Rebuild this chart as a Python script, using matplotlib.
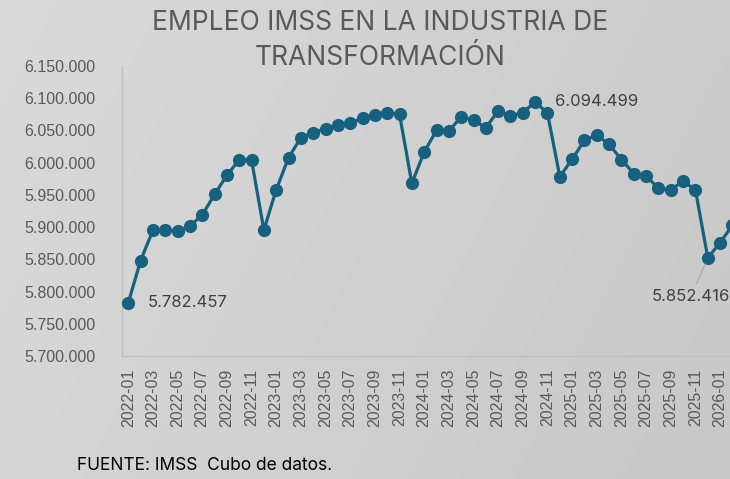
import numpy as np
import matplotlib
matplotlib.use("Agg")
import matplotlib.pyplot as plt
from matplotlib.ticker import FuncFormatter

# ---- data ----
months = [f"{y}-{m:02d}" for y in range(2022, 2027) for m in range(1, 13)][:50]
empleo = [5782457, 5848000, 5895000, 5895000, 5894500, 5901700, 5918800, 5950900,
          5980300, 6004700, 6004000, 5895500, 5958100, 6007800, 6038800, 6046600,
          6052800, 6058400, 6061600, 6068800, 6073400, 6077600, 6075000, 5967900,
          6016600, 6050200, 6049100, 6070900, 6065700, 6054300, 6080200, 6072400,
          6077600, 6094499, 6076600, 5978300, 6005200, 6034700, 6042900, 6028400,
          6004700, 5982900, 5979300, 5960200, 5957600, 5971600, 5957600, 5852416,
          5875900, 5902800]
title = "EMPLEO IMSS EN LA INDUSTRIA DE\nTRANSFORMACIÓN"
source = "FUENTE: IMSS  Cubo de datos."
annotated = [0, 33, 47]

W, H = 730, 479
fig = plt.figure(figsize=(W / 100, H / 100), dpi=100)

# background gradient
bg = fig.add_axes([0, 0, 1, 1], zorder=-10)
yy, xx = np.mgrid[0:1:200j, 0:1:300j]
t = (xx * 0.75 + yy * 0.25)
top = np.array([218, 218, 218]) / 255
bot = np.array([200, 200, 200]) / 255
img = top[None, None, :] * (1 - t[..., None]) + bot[None, None, :] * t[..., None]
bg.imshow(img, aspect="auto", extent=[0, 1, 0, 1], origin="upper")
bg.axis("off")

left_px, bottom_px, top_px = 122.1, 356, 66
spacing = 12.33
ax = fig.add_axes([left_px / W, (H - bottom_px) / H,
                   50 * spacing / W, (bottom_px - top_px) / H])
ax.set_facecolor("none")

x = np.arange(len(empleo))
ax.plot(x, empleo, color="#17607f", lw=2.3, marker="o", ms=9.5,
        markeredgewidth=0, clip_on=False, zorder=3)

ax.set_xlim(-0.5, 49.5)
ax.set_ylim(5700000, 6150000)
ax.set_yticks(np.arange(5700000, 6150001, 50000))
ax.yaxis.set_major_formatter(FuncFormatter(lambda v, p: f"{int(v):,}".replace(",", ".")))
ax.set_xticks(x[::2])
ax.set_xticklabels(months[::2], rotation=90)

for lab in ax.get_xticklabels() + ax.get_yticklabels():
    lab.set_fontfamily(["Liberation Sans", "DejaVu Sans"])
    lab.set_fontsize(11.5)
    lab.set_color("#595959")
ax.tick_params(axis="both", length=0)
ax.tick_params(axis="y", pad=19)
ax.tick_params(axis="x", pad=9)

for s in ["top", "right"]:
    ax.spines[s].set_visible(False)
for s in ["left", "bottom"]:
    ax.spines[s].set_color("#bfbfbf")
    ax.spines[s].set_linewidth(1.0)

ann_kw = dict(fontsize=12, color="#404040", family=["Inter", "DejaVu Sans"])
i = annotated[0]
ax.annotate(f"{empleo[i]:,}".replace(",", "."), (x[i], empleo[i]),
            xytext=(14, 0), textcoords="offset points", ha="left", va="center", **ann_kw)
i = annotated[1]
ax.annotate(f"{empleo[i]:,}".replace(",", "."), (x[i], empleo[i]),
            xytext=(14, 0), textcoords="offset points", ha="left", va="center", **ann_kw)
i = annotated[2]
ax.annotate(f"{empleo[i]:,}".replace(",", "."), (x[i], empleo[i]),
            xytext=(-12, -28), textcoords="offset points", ha="center", va="center",
            arrowprops=dict(arrowstyle="-", color="#a6a6a6", lw=0.8,
                            shrinkA=2, shrinkB=5), **ann_kw)

fig.text(380 / W, 1 - 40.5 / H, title, ha="center", va="center", fontsize=19,
         color="#595959", family=["Inter", "DejaVu Sans"], linespacing=1.45)
fig.text(77 / W, 1 - 466 / H, source, ha="left", va="center", fontsize=12.5,
         color="#000000", family=["Inter", "DejaVu Sans"])

fig.savefig("out.png", dpi=100)
